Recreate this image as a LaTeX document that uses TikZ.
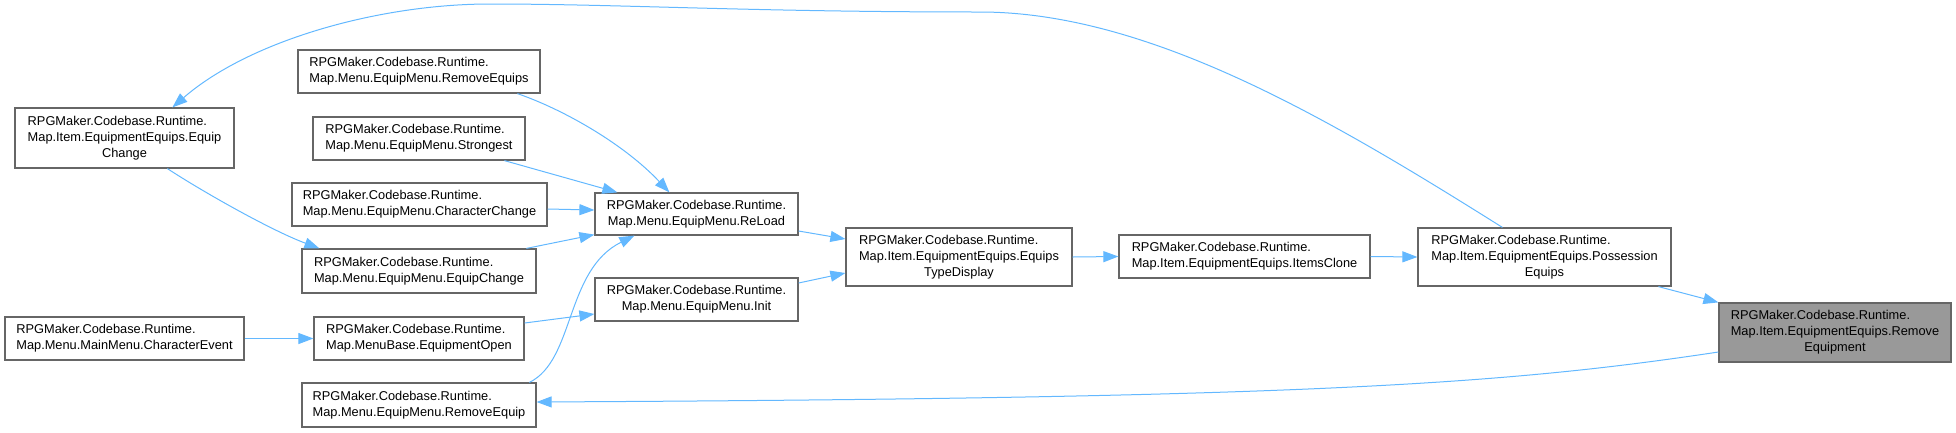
\documentclass[tikz,border=0pt]{standalone}
\usepackage{fontspec}
\setmainfont{Liberation Sans}
\usetikzlibrary{arrows.meta}
\definecolor{edgeblue}{HTML}{63B8FF}
\definecolor{boxgray}{HTML}{666666}
\definecolor{hlgray}{HTML}{999999}
\newcommand{\lblthree}[3]{\begin{tabular}{@{}l@{}}#1\\#2\\\multicolumn{1}{@{}c@{}}{#3}\end{tabular}}
\newcommand{\lbltwo}[2]{\begin{tabular}{@{}l@{}}#1\\\multicolumn{1}{@{}c@{}}{#2}\end{tabular}}
\begin{document}
\begin{tikzpicture}[x=1pt,y=-1pt,
  box/.style={draw=boxgray, line width=1.2pt, fill=white, inner sep=0pt,
    font=\fontsize{12.8}{16}\selectfont, anchor=center},
  hlbox/.style={box, fill=hlgray},
  edge/.style={draw=edgeblue, line width=1pt, -{Triangle[length=15pt,width=11pt]}}
]
\useasboundingbox (0,0) rectangle (1956,432);

% nodes
\node[box, minimum width=219pt, minimum height=60pt] (ecitem) at (124.5,138)
  {\lblthree{RPGMaker.Codebase.Runtime.}{Map.Item.EquipmentEquips.Equip}{Change}};
\node[box, minimum width=242pt, minimum height=43pt] (removeequips) at (419,71.5)
  {\lbltwo{RPGMaker.Codebase.Runtime.}{Map.Menu.EquipMenu.RemoveEquips}};
\node[box, minimum width=212pt, minimum height=43pt] (strongest) at (419,138.5)
  {\lbltwo{RPGMaker.Codebase.Runtime.}{Map.Menu.EquipMenu.Strongest}};
\node[box, minimum width=255pt, minimum height=43pt] (charchange) at (419.5,204.5)
  {\lbltwo{RPGMaker.Codebase.Runtime.}{Map.Menu.EquipMenu.CharacterChange}};
\node[box, minimum width=234pt, minimum height=44pt] (emequip) at (419,271)
  {\lbltwo{RPGMaker.Codebase.Runtime.}{Map.Menu.EquipMenu.EquipChange}};
\node[box, minimum width=239pt, minimum height=43pt] (charev) at (124.5,338.5)
  {\lbltwo{RPGMaker.Codebase.Runtime.}{Map.Menu.MainMenu.CharacterEvent}};
\node[box, minimum width=210pt, minimum height=43pt] (equipopen) at (419,338.5)
  {\lbltwo{RPGMaker.Codebase.Runtime.}{Map.MenuBase.EquipmentOpen}};
\node[box, minimum width=234pt, minimum height=44pt] (removeequip) at (419,405)
  {\lbltwo{RPGMaker.Codebase.Runtime.}{Map.Menu.EquipMenu.RemoveEquip}};
\node[box, minimum width=203pt, minimum height=42pt] (reload) at (696.5,214)
  {\lbltwo{RPGMaker.Codebase.Runtime.}{Map.Menu.EquipMenu.ReLoad}};
\node[box, minimum width=203pt, minimum height=43pt] (init) at (696.5,299.5)
  {\lbltwo{RPGMaker.Codebase.Runtime.}{Map.Menu.EquipMenu.Init}};
\node[box, minimum width=226pt, minimum height=58pt] (etd) at (959,257)
  {\lblthree{RPGMaker.Codebase.Runtime.}{Map.Item.EquipmentEquips.Equips}{TypeDisplay}};
\node[box, minimum width=251pt, minimum height=43pt] (itemsclone) at (1244.5,256.5)
  {\lbltwo{RPGMaker.Codebase.Runtime.}{Map.Item.EquipmentEquips.ItemsClone}};
\node[box, minimum width=253pt, minimum height=58pt] (pe) at (1544.5,257)
  {\lblthree{RPGMaker.Codebase.Runtime.}{Map.Item.EquipmentEquips.Possession}{Equips}};
\node[hlbox, minimum width=232pt, minimum height=59pt] (re) at (1835,332.5)
  {\lblthree{RPGMaker.Codebase.Runtime.}{Map.Item.EquipmentEquips.Remove}{Equipment}};

% edges
\draw[edge] ([xshift=85pt]pe.north west) .. controls (1333,121) and (1150,12) .. (980,12)
  .. controls (750,12) and (620,4) .. (490,4)
  .. controls (380,4) and (250,40) .. ([xshift=158pt]ecitem.north west);
\draw[edge] ([xshift=153pt]ecitem.south west) .. controls (200,190) and (270,230) .. ([xshift=18pt]emequip.north west);
\draw[edge] ([xshift=220pt]removeequips.south west) .. controls (565,110) and (625,145) .. ([xshift=75pt]reload.north west);
\draw[edge] ([xshift=192pt]strongest.south west) -- ([xshift=23pt]reload.north west);
\draw[edge] ([yshift=-4.5pt]charchange.east) -- ([yshift=4pt]reload.west);
\draw[edge] ([xshift=225pt]emequip.north west) -- ([yshift=1pt]reload.south west);
\draw[edge] ([xshift=228pt]removeequip.north west) .. controls (575,360) and (565,270) .. ([xshift=40pt]reload.south west);
\draw[edge] (charev.east) -- (equipopen.west);
\draw[edge] ([yshift=15.5pt]equipopen.east) -- ([yshift=-14.5pt]init.west);
\draw[edge] ([yshift=-17pt]reload.east) -- ([yshift=18pt]etd.west);
\draw[edge] ([yshift=16.5pt]init.east) -- ([yshift=-16pt]etd.west);
\draw[edge] (etd.east) -- (itemsclone.west);
\draw[edge] (itemsclone.east) -- (pe.west);
\draw[edge] ([xshift=241pt]pe.south west) -- (re.north west);
\draw[edge] ([yshift=-19.5pt]re.west) .. controls (1500,385) and (1300,398) .. ([yshift=3pt]removeequip.east);
\end{tikzpicture}
\end{document}
